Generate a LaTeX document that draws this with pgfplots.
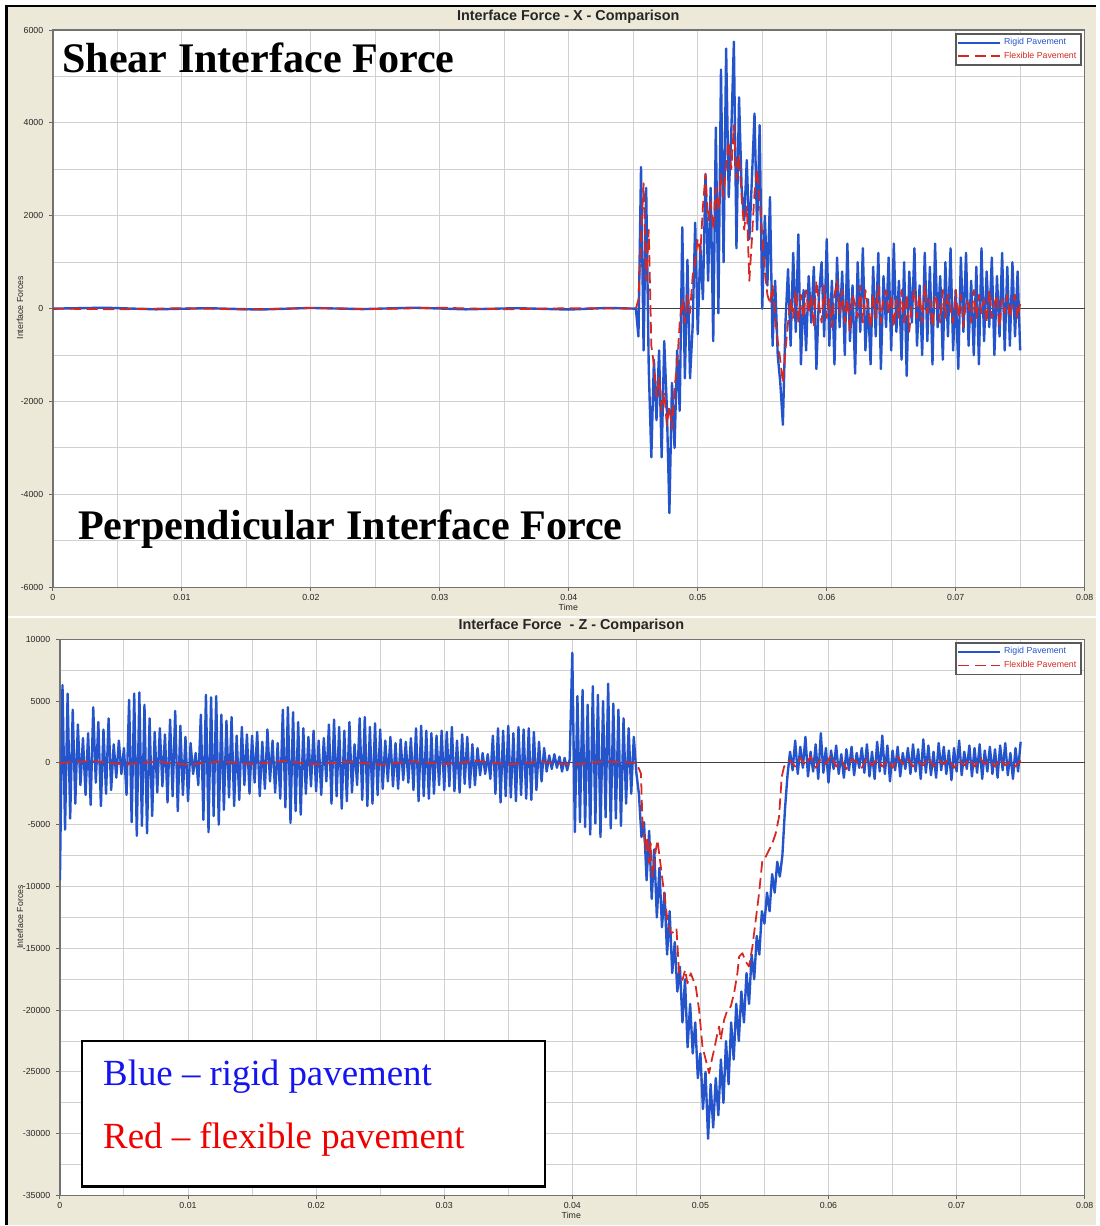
\documentclass[border=0pt]{standalone}
\usepackage{pgfplots}
\pgfplotsset{compat=1.18}
\usepackage{pgfplotstable}
\usepackage{fontspec}
\setmainfont{Liberation Sans}
\newfontfamily\timesfont{Liberation Serif}
\definecolor{bg}{RGB}{236,233,216}
\definecolor{rigid}{RGB}{36,84,204}
\definecolor{flex}{RGB}{214,40,32}
\definecolor{gridc}{RGB}{208,208,208}
\definecolor{txtblue}{RGB}{20,20,240}
\definecolor{txtred}{RGB}{240,0,0}

% Top panel: rigid (blue), from 45.2 ms in steps of 0.2 ms
\pgfplotstableread{
y
0
-600
3050
-900
2600
-1300
-3200
-1100
-2400
-900
-3200
-700
-2100
-4400
-1600
-3000
-900
-2200
1750
-1500
1050
-1500
-400
1850
-550
1350
200
2900
600
2600
-700
3900
-100
5150
1000
5600
2400
3800
5750
1300
4550
2600
1900
3200
1500
2800
4200
1700
3950
0
2000
500
2400
-800
600
-1000
-1600
-2500
-300
850
-800
1200
-500
1600
-1200
400
-900
700
-300
900
-1300
300
1000
-600
1500
-800
600
-1200
1100
-400
800
-1000
1400
-700
500
-1400
1000
-500
1300
-900
200
-1200
900
-600
1200
-1300
700
-400
1100
-900
1400
-500
600
-1100
1000
-1450
800
-300
1300
-800
500
-1000
1200
-700
900
-1200
1400
-400
700
-1100
1000
-600
1300
-900
400
-1300
1100
-500
1200
-800
600
-1000
900
-1200
1300
-700
800
-400
1100
-1000
700
-600
1200
-900
900
-800
1000
-600
800
-900
}\topblue

% Top panel: flexible (red), from 45.2 ms in steps of 0.2 ms
\pgfplotstableread{
y
0
200
1500
2700
600
1700
-800
-1200
-1900
-1500
-2200
-1800
-2500
-2100
-2600
-1700
-1200
-300
200
-300
300
-100
700
1000
1500
1200
2200
2900
1900
2300
1700
2600
2100
2900
2400
3100
3600
3000
3950
2800
3300
2400
1700
2200
600
1500
2500
3000
2300
1600
800
300
100
500
-200
-700
-1100
-1600
-900
-300
200
-200
400
-300
300
-200
400
-100
300
-400
600
100
-300
500
-200
200
-400
300
600
-100
400
-300
200
-500
300
100
-200
500
-300
400
0
-400
300
-200
500
-300
200
400
-100
300
-400
200
-200
400
-300
300
-500
100
400
-200
300
-300
500
-100
200
-400
300
100
-300
400
-200
300
0
-300
400
-200
300
-400
200
100
-300
400
-200
300
-100
200
-300
400
-200
100
300
-400
200
-100
300
-200
100
300
-200
100
}\topred

% Bottom panel: rigid (blue), from 0 ms in steps of 0.2 ms
\pgfplotstableread{
y
-9500
6300
-5400
5600
-4500
4300
-3300
3100
-1800
2000
-2600
2400
-3400
4500
-1600
3300
-3500
2700
-2500
3600
-2200
1500
-1200
1800
-900
1200
-2600
5100
-4800
5600
-5900
5700
-5100
4700
-5700
3600
-4300
2500
-2400
2800
-1900
2300
-3200
3500
-2700
4200
-3900
3000
-2600
2100
-3100
1600
-900
800
-1800
3900
-4600
5500
-5600
5300
-4300
5400
-5000
3900
-3800
3400
-2800
3700
-3500
2200
-3000
2900
-1800
2300
-2500
2200
-1600
2500
-2700
1700
-2100
2700
-1500
1800
-2400
1600
-2900
4300
-3600
4500
-4850
4100
-3900
3300
-4200
2800
-2500
2100
-1900
2600
-2300
1800
-2600
2000
-1500
3100
-3300
3500
-2700
2900
-3700
2600
-3100
3300
-2400
1500
-1800
3600
-3000
3700
-3500
2900
-3300
3200
-2600
2700
-2100
1800
-1500
2100
-1900
1600
-2100
1900
-1400
1700
-1600
2000
-2200
2800
-3100
3000
-2700
2600
-2900
2400
-2500
2200
-1800
2600
-2200
2500
-1900
2900
-2300
1800
-2400
2300
-1700
2100
-2000
1500
-1800
1200
-1000
800
-900
700
-1300
2200
-2500
2800
-3200
2600
-2700
3000
-2800
2400
-3100
2900
-2600
2700
-2900
2800
-3000
2500
-2200
1700
-1500
1200
-700
600
-500
700
-400
500
-700
400
-600
300
8900
-5600
5400
-4800
5900
-5200
4700
-5800
6200
-4900
5500
-6000
5000
-4400
6400
-5300
4800
-4500
4300
-5100
3600
-3300
2800
-2500
2100
-800
-2500
-6000
-4800
-9500
-5500
-11000
-7000
-12500
-8500
-13300
-10500
-15500
-12000
-17000
-14500
-18500
-16500
-21000
-17500
-23000
-19500
-23500
-21000
-25500
-23500
-28000
-25000
-30400
-26000
-29500
-25500
-28500
-24000
-27500
-22500
-26000
-21000
-24000
-19500
-22500
-18500
-21000
-17000
-19500
-15500
-17500
-14000
-15500
-12000
-13000
-10500
-12000
-9000
-10500
-8000
-9200
-7500
-3800
-1000
900
-600
1800
-900
1300
-400
2100
-1100
900
-700
1500
-1300
2400
-800
1200
-1600
1000
-500
1400
-900
700
-1200
1100
-600
1300
-1000
800
-400
1200
-800
1500
-1100
900
-1300
1700
-700
2200
-900
1400
-1500
1000
-600
1300
-1100
800
-500
1200
-900
1500
-700
1100
-1300
1900
-800
1400
-1000
900
-1200
1600
-600
1300
-900
1000
-1400
1200
-700
1800
-1000
900
-500
1400
-1100
1200
-800
1500
-1300
1000
-700
1300
-900
1100
-1200
1400
-600
1600
-1000
800
-1300
1200
-700
1700
}\botblue

\pgfplotsset{
  panel/.style={
    scale only axis, anchor=south west,
    xmin=0, xmax=80,
    xtick={0,10,...,80},
    xticklabels={0,0.01,0.02,0.03,0.04,0.05,0.06,0.07,0.08},
    scaled y ticks=false, scaled x ticks=false,
    minor x tick num=1, minor y tick num=1,
    grid=both,
    major grid style={gridc, line width=0.55pt},
    minor grid style={gridc, line width=0.55pt},
    axis background/.style={fill=white},
    axis line style={draw=black!55, line width=0.7pt},
    tick align=outside, xtick pos=bottom, ytick pos=left,
    major tick length=0.07cm, minor tick length=0pt,
    tick style={black!60, line width=0.5pt},
    tick label style={font=\fontsize{5}{6}\selectfont, text=black!85},
    xticklabel style={yshift=0.05cm},
    extra y ticks={0}, extra y tick labels={},
    extra y tick style={grid=major, major grid style={black!75, line width=0.6pt}},
    legend style={at={(1,1)}, anchor=north east, xshift=-0.06cm, yshift=-0.06cm,
      draw=black!65, line width=0.9pt, fill=white,
      font=\fontsize{5}{6}\selectfont, inner sep=0.6pt, row sep=-1.5pt,
      cells={anchor=west}},
    legend image code/.code={\draw[#1, line width=0.9pt] (0cm,0cm) -- (0.84cm,0cm);},
  },
  rigidline/.style={rigid, line width=1.35pt, line join=round},
  flexline/.style={flex, line width=1.0pt, line join=round, dash pattern=on 6.5pt off 3pt},
}

\begin{document}
\begin{tikzpicture}
\fill[white] (0,0) rectangle (21.94,-24.52);
\fill[bg] (0.14,-0.12) rectangle (21.94,-24.52);
\draw[white, line width=0.05cm] (0.14,-12.35) -- (21.94,-12.35);
\draw[black, line width=0.06cm] (0.14,-24.52) -- (0.14,-0.12) -- (21.94,-0.12);

% ---------- top panel ----------
\begin{axis}[panel, at={(1.06cm,-11.76cm)}, width=20.66cm, height=11.16cm,
  ymin=-6000, ymax=6000, ytick={-6000,-4000,...,6000},
  yticklabels={-6000,-4000,-2000,0,2000,4000,6000}]
\addplot[rigidline, forget plot] coordinates {(0,0) (4,20) (8,-15) (12,10) (16,-20) (20,15) (24,-10) (28,20) (32,-15) (36,10) (40,-20) (43,15) (45.2,0)};
\addplot[rigidline] table[x expr=45.2+\coordindex*0.2, y=y] {\topblue};
\addlegendentry{\textcolor{rigid}{Rigid Pavement}}
\addplot[flexline, forget plot] coordinates {(0,0) (5,-15) (10,10) (15,-20) (20,15) (25,-10) (30,20) (35,-15) (40,10) (45.2,0)};
\addplot[flexline] table[x expr=45.2+\coordindex*0.2, y=y] {\topred};
\addlegendentry{\textcolor{flex}{Flexible Pavement}}
\end{axis}

% ---------- bottom panel ----------
\begin{axis}[panel, at={(1.20cm,-23.94cm)}, width=20.52cm, height=11.14cm,
  ymin=-35000, ymax=10000, ytick={-35000,-30000,...,10000},
  yticklabels={-35000,-30000,-25000,-20000,-15000,-10000,-5000,0,5000,10000}]
\addplot[rigidline] table[x expr=\coordindex*0.2, y=y] {\botblue};
\addlegendentry{\textcolor{rigid}{Rigid Pavement}}
\addplot[flexline] coordinates {
(0,0) (2.5,150) (5,-120) (7.5,100) (10,-150) (12.5,120) (15,-100) (17.5,150) (20,-120) (22.5,100)
(25,-150) (27.5,120) (30,-100) (32.5,150) (35,-120) (37.5,100) (40,-150) (42.5,120) (45,0)
(45.36,-860) (45.48,-4870) (45.74,-7050) (45.87,-5980) (46.0,-8130) (46.13,-6510) (46.26,-9210)
(46.52,-7050) (46.65,-6240) (46.91,-8400) (47.17,-10560) (47.43,-12710) (47.69,-13790) (47.95,-13650)
(48.13,-13380) (48.34,-17020) (48.6,-17560) (48.81,-16750) (48.99,-17830) (49.25,-17020) (49.64,-18100)
(49.9,-19980) (50.16,-22940) (50.42,-24020) (50.68,-25100) (50.89,-24020) (51.07,-23210) (51.33,-21870)
(51.46,-21330) (51.59,-22400) (51.85,-20790) (52.11,-19980) (52.37,-19710) (52.63,-18630) (52.89,-17020)
(53.02,-15680) (53.28,-15400) (53.54,-16080) (53.8,-16480) (54.06,-14870) (54.32,-12710) (54.58,-10560)
(54.84,-7860) (55.1,-7590) (55.36,-7050) (55.62,-6510) (55.88,-5700) (56.14,-4360) (56.35,-1130)
(56.53,-320) (56.79,80)
(57.0,200) (57.4,-300) (57.8,400) (58.2,-200) (58.6,500) (59.0,-400) (59.4,300) (59.8,-100) (60.2,600)
(60.6,-300) (61.0,200) (61.4,-500) (61.8,300) (62.2,100) (62.6,-400) (63.0,400) (63.4,-200) (63.8,300)
(64.2,-300) (64.6,200) (65.0,-400) (65.4,500) (65.8,-100) (66.2,300) (66.6,-300) (67.0,100) (67.4,-200)
(67.8,400) (68.2,-300) (68.6,200) (69.0,-100) (69.4,300) (69.8,-400) (70.2,200) (70.6,-200) (71.0,300)
(71.4,-300) (71.8,400) (72.2,-100) (72.6,200) (73.0,-300) (73.4,300) (73.8,-200) (74.2,100) (74.6,-300)
(75.0,200)};
\addlegendentry{\textcolor{flex}{Flexible Pavement}}
\end{axis}

% ---------- titles and labels ----------
\node[font=\fontsize{8.2}{10}\selectfont\bfseries, text=black!85] at (11.38,-0.34) {Interface Force - X - Comparison};
\node[font=\fontsize{8.2}{10}\selectfont\bfseries, text=black!85] at (11.44,-12.54) {Interface Force \ - Z - Comparison};
\node[font=\fontsize{5}{6}\selectfont, text=black!85] at (11.38,-12.16) {Time};
\node[font=\fontsize{5}{6}\selectfont, text=black!85] at (11.44,-24.34) {Time};
\node[font=\fontsize{5}{6}\selectfont, text=black!85, rotate=90] at (0.40,-6.16) {Interface Forces};
\node[font=\fontsize{5}{6}\selectfont, text=black!85, rotate=90] at (0.40,-18.36) {Interface Forces};

% ---------- annotations ----------
\node[anchor=base west, inner sep=0pt, font=\timesfont\bfseries\fontsize{24}{28}\selectfont] at (1.24,-1.46) {Shear Interface Force};
\node[anchor=base west, inner sep=0pt, font=\timesfont\bfseries\fontsize{24}{28}\selectfont] at (1.56,-10.80) {Perpendicular Interface Force};
\draw[black, line width=0.045cm, fill=white] (1.64,-20.84) rectangle (10.92,-23.76);
\node[anchor=base west, inner sep=0pt, text=txtblue, font=\timesfont\fontsize{21}{25}\selectfont] at (2.06,-21.74) {Blue – rigid pavement};
\node[anchor=base west, inner sep=0pt, text=txtred, font=\timesfont\fontsize{21}{25}\selectfont] at (2.06,-23.00) {Red – flexible pavement};
\end{tikzpicture}
\end{document}
